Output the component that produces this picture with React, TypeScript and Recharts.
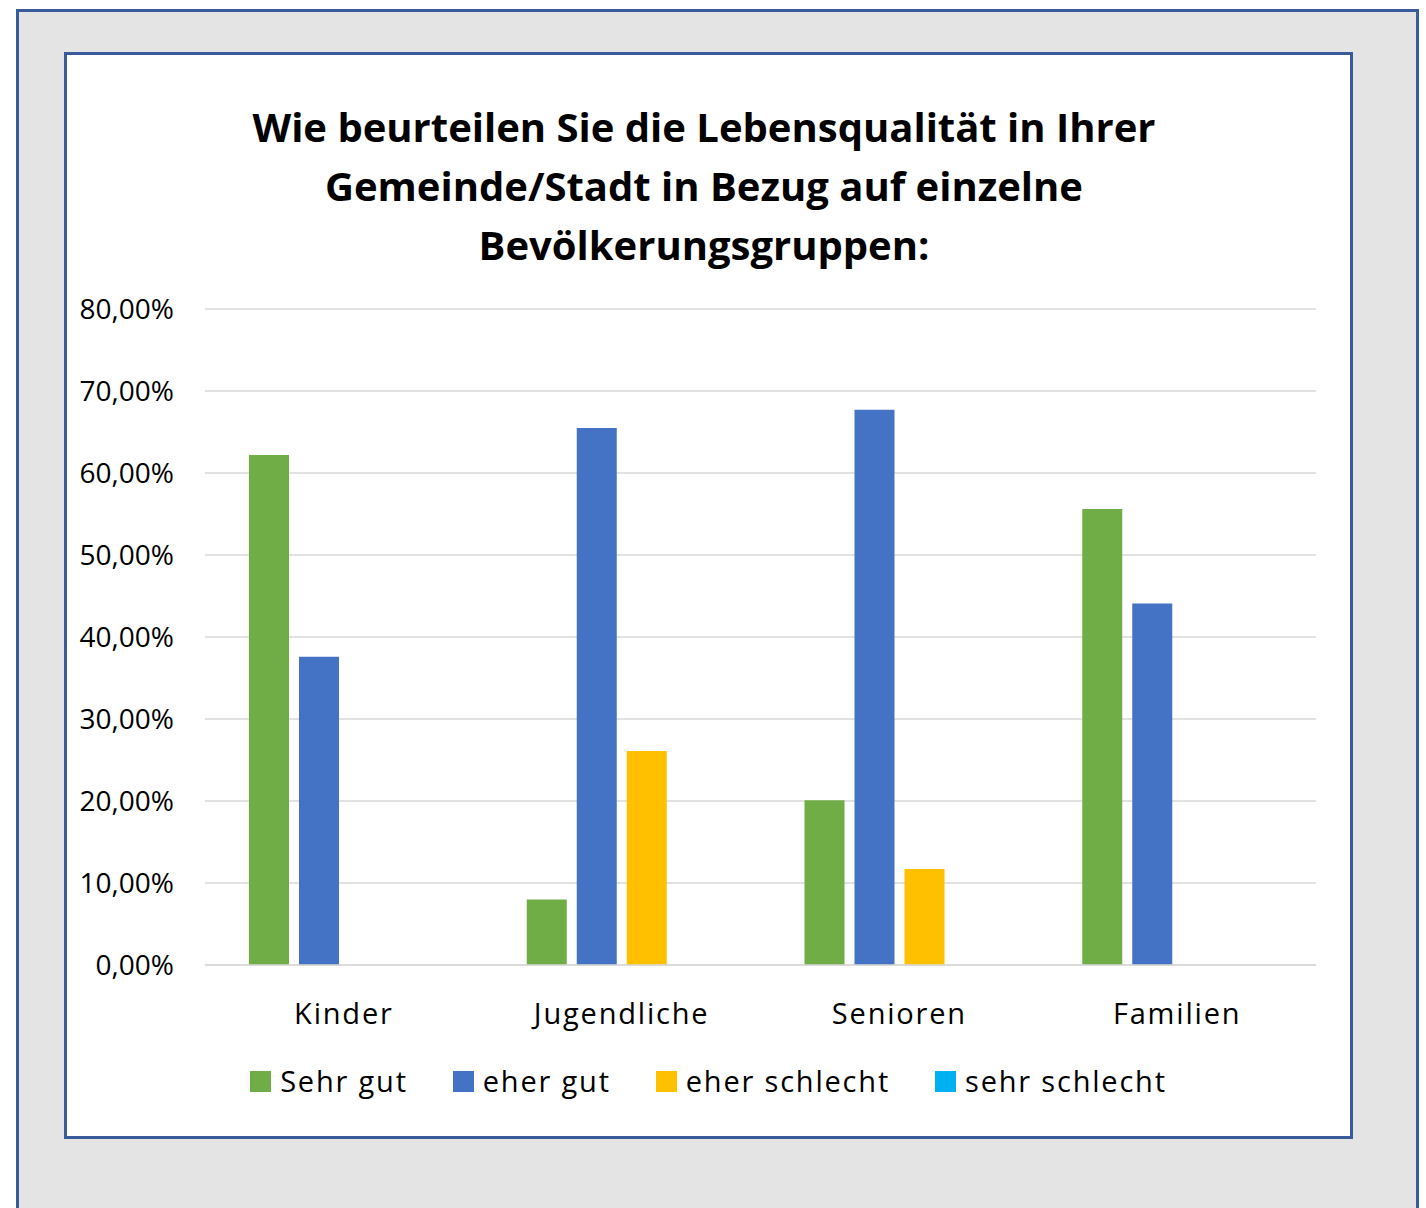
import React from 'react';
import { BarChart, Bar, XAxis, YAxis, CartesianGrid, Legend } from 'recharts';

const categories = ['Kinder', 'Jugendliche', 'Senioren', 'Familien'];
const sehrGut = [62.2, 8.0, 20.1, 55.6];
const eherGut = [37.6, 65.5, 67.7, 44.1];
const eherSchlecht = [0, 26.1, 11.7, 0];
const sehrSchlecht = [0, 0, 0, 0];
const yTicks = [0, 10, 20, 30, 40, 50, 60, 70, 80];
const titleLines = [
  'Wie beurteilen Sie die Lebensqualität in Ihrer',
  'Gemeinde/Stadt in Bezug auf einzelne',
  'Bevölkerungsgruppen:',
];

const data = categories.map((c, i) => ({
  name: c,
  sehrGut: sehrGut[i],
  eherGut: eherGut[i],
  eherSchlecht: eherSchlecht[i],
  sehrSchlecht: sehrSchlecht[i],
}));

const FONT = '"Open Sans", "Noto Sans", sans-serif';
const BORDER = '#3A5B9B';

const fmt = (v: number) => `${v.toFixed(2).replace('.', ',')}%`;

const renderLegend = (props: any) => {
  const payload = props.payload || [];
  return (
    <div style={{ display: 'flex', justifyContent: 'center', alignItems: 'center', gap: 45, fontFamily: FONT, fontSize: 29, letterSpacing: 1.8, color: '#000', height: 30 }}>
      {payload.map((p: any) => (
        <div key={p.value} style={{ display: 'flex', alignItems: 'center' }}>
          <div style={{ width: 21, height: 21, background: p.color, marginRight: 9 }} />
          <span style={{ lineHeight: '30px', whiteSpace: 'nowrap' }}>{p.value}</span>
        </div>
      ))}
    </div>
  );
};

export default function App() {
  return (
    <div style={{ position: 'fixed', left: 0, top: 0, width: 1426, height: 1208, overflow: 'hidden', background: '#fff' }}>
      <div style={{ position: 'absolute', left: 16, top: 9, width: 1397, height: 1220, background: '#E4E4E4', border: `3px solid ${BORDER}`, borderBottom: 'none' }} />
      <div style={{ position: 'absolute', left: 64, top: 52, width: 1283, height: 1081, background: '#fff', border: `3px solid ${BORDER}` }} />
      <div style={{ position: 'absolute', left: 67, top: 97, width: 1274, textAlign: 'center', fontFamily: FONT, fontWeight: 700, fontSize: 40, lineHeight: '59px', color: '#000' }}>
        {titleLines.map((l) => (
          <div key={l}>{l}</div>
        ))}
      </div>
      <div style={{ position: 'absolute', left: 67, top: 55 }}>
        <BarChart
          width={1283}
          height={1081}
          data={data}
          margin={{ top: 254, right: 34, bottom: 111, left: 0 }}
          barSize={40}
          barGap={10}
        >
          <CartesianGrid vertical={false} stroke="#D9D9D9" strokeWidth={1.5} />
          <XAxis
            dataKey="name"
            height={60}
            axisLine={{ stroke: '#D9D9D9', strokeWidth: 1.5 }}
            tickLine={false}
            tickSize={0}
            tickMargin={38}
            tick={{ fill: '#000', fontSize: 29, fontFamily: FONT, letterSpacing: 1.8 }}
          />
          <YAxis
            width={138}
            domain={[0, 80]}
            ticks={yTicks}
            tickFormatter={fmt}
            axisLine={false}
            tickLine={false}
            tickSize={0}
            tickMargin={31}
            tick={{ fill: '#000', fontSize: 28, fontFamily: FONT }}
          />
          <Legend
            verticalAlign="middle"
            align="center"
            layout="horizontal"
            wrapperStyle={{ top: 1011, left: 0, width: 1283 }}
            content={renderLegend}
          />
          <Bar dataKey="sehrGut" name="Sehr gut" fill="#70AD47" isAnimationActive={false} />
          <Bar dataKey="eherGut" name="eher gut" fill="#4472C4" isAnimationActive={false} />
          <Bar dataKey="eherSchlecht" name="eher schlecht" fill="#FFC000" isAnimationActive={false} />
          <Bar dataKey="sehrSchlecht" name="sehr schlecht" fill="#00B0F0" isAnimationActive={false} />
        </BarChart>
      </div>
    </div>
  );
}
